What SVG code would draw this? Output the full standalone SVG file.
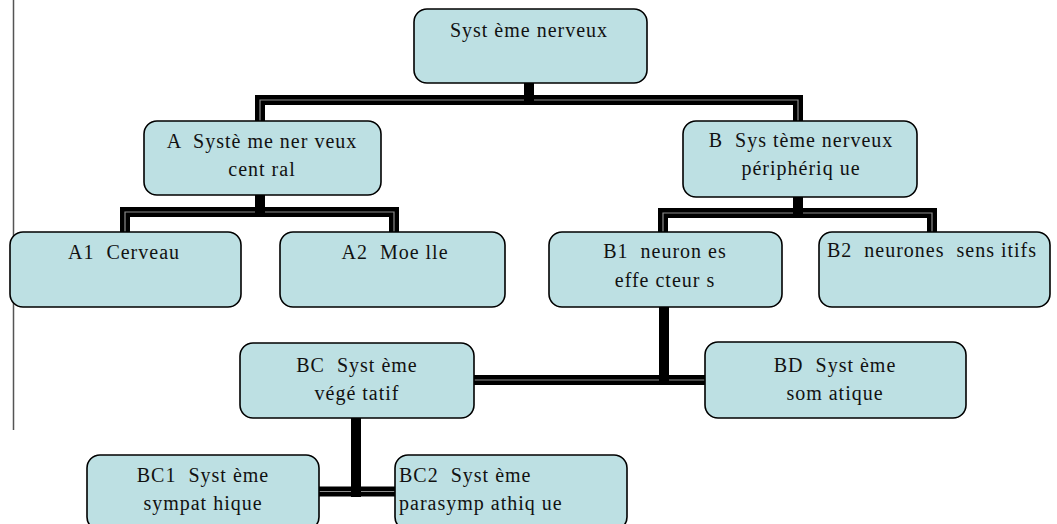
<svg xmlns="http://www.w3.org/2000/svg" width="1057" height="524" viewBox="0 0 1057 524">
  <style>
    .box { fill: #bde0e3; stroke: #000; stroke-width: 1.6; }
    .lbl { font-family: "Liberation Serif", "Times New Roman", serif; font-size: 20px; fill: #111; letter-spacing: 1px; white-space: pre; }
    .mid { text-anchor: middle; }
    .stem { fill: none; stroke: #000; stroke-width: 10; stroke-linecap: butt; }
    .edge { fill: none; stroke: #000; stroke-width: 10; stroke-linejoin: miter; }
    .edge-in { fill: none; stroke: #8c8c8c; stroke-width: 1.2; stroke-linejoin: miter; }
  </style>

  <!-- page margin rule -->
  <line x1="13.5" y1="0" x2="13.5" y2="430" stroke="#555" stroke-width="1.5"/>

  <!-- connectors -->
  <g id="connectors">
    <!-- root to A / B -->
    <line class="stem" x1="529" y1="83" x2="529" y2="105"/>
    <path class="edge" d="M529,100 H260 V121"/>
    <path class="edge" d="M529,100 H798 V121"/>
    <path class="edge-in" d="M529,100 H260 V121"/>
    <path class="edge-in" d="M529,100 H798 V121"/>
    <line class="stem" x1="529" y1="95" x2="529" y2="105"/>

    <!-- A to A1 / A2 -->
    <line class="stem" x1="260" y1="195" x2="260" y2="217"/>
    <path class="edge" d="M260,212 H125 V232"/>
    <path class="edge" d="M260,212 H394 V232"/>
    <path class="edge-in" d="M260,212 H125 V232"/>
    <path class="edge-in" d="M260,212 H394 V232"/>
    <line class="stem" x1="260" y1="207" x2="260" y2="217"/>

    <!-- B to B1 / B2 -->
    <line class="stem" x1="798" y1="197" x2="798" y2="218"/>
    <path class="edge" d="M798,213 H663 V232"/>
    <path class="edge" d="M798,213 H932 V232"/>
    <path class="edge-in" d="M798,213 H663 V232"/>
    <path class="edge-in" d="M798,213 H932 V232"/>
    <line class="stem" x1="798" y1="208" x2="798" y2="218"/>

    <!-- B1 to BC / BD -->
    <line class="stem" x1="664" y1="307" x2="664" y2="385"/>
    <path class="edge" d="M664,380 H474"/>
    <path class="edge" d="M664,380 H705"/>
    <path class="edge-in" d="M664,380 H474"/>
    <path class="edge-in" d="M664,380 H705"/>
    <line class="stem" x1="664" y1="375" x2="664" y2="385"/>

    <!-- BC to BC1 / BC2 -->
    <line class="stem" x1="356" y1="418" x2="356" y2="497"/>
    <path class="edge" d="M356,491.5 H319"/>
    <path class="edge" d="M356,491.5 H395"/>
    <path class="edge-in" d="M356,491.5 H319"/>
    <path class="edge-in" d="M356,491.5 H395"/>
    <line class="stem" x1="356" y1="486" x2="356" y2="497"/>
  </g>

  <g id="root">
    <rect class="box" x="414" y="9" width="233" height="74" rx="13"/>
    <text class="lbl mid" x="529" y="37">Syst ème nerveux</text>
  </g>

  <g id="node-a">
    <rect class="box" x="144" y="121" width="237" height="74" rx="13"/>
    <text class="lbl mid" x="262" y="148">A  Systè me ner veux</text>
    <text class="lbl mid" x="262" y="176">cent ral</text>
  </g>

  <g id="node-b">
    <rect class="box" x="683" y="121" width="234" height="76" rx="13"/>
    <text class="lbl mid" x="801" y="147">B  Sys tème nerveux</text>
    <text class="lbl mid" x="801" y="175">périphériq ue</text>
  </g>

  <g id="node-a1">
    <rect class="box" x="10" y="232" width="231" height="75" rx="13"/>
    <text class="lbl mid" x="124" y="259">A1  Cerveau</text>
  </g>

  <g id="node-a2">
    <rect class="box" x="280" y="232" width="225" height="75" rx="13"/>
    <text class="lbl mid" x="395" y="259">A2  Moe lle</text>
  </g>

  <g id="node-b1">
    <rect class="box" x="549" y="232" width="233" height="75" rx="13"/>
    <text class="lbl mid" x="665" y="258">B1  neuron es</text>
    <text class="lbl mid" x="665" y="287">effe cteur s</text>
  </g>

  <g id="node-b2">
    <rect class="box" x="819" y="232" width="231" height="75" rx="13"/>
    <text class="lbl mid" x="932" y="257">B2  neurones  sens itifs</text>
  </g>

  <g id="node-bc">
    <rect class="box" x="240" y="343" width="234" height="75" rx="13"/>
    <text class="lbl mid" x="357" y="372">BC  Syst ème</text>
    <text class="lbl mid" x="357" y="400">végé tatif</text>
  </g>

  <g id="node-bd">
    <rect class="box" x="705" y="342" width="261" height="76" rx="13"/>
    <text class="lbl mid" x="835" y="372">BD  Syst ème</text>
    <text class="lbl mid" x="835" y="400">som atique</text>
  </g>

  <g id="node-bc1">
    <rect class="box" x="87" y="455" width="232" height="75" rx="13"/>
    <text class="lbl mid" x="203" y="482">BC1  Syst ème</text>
    <text class="lbl mid" x="203" y="510">sympat hique</text>
  </g>

  <g id="node-bc2">
    <rect class="box" x="395" y="455" width="232" height="75" rx="13"/>
    <text class="lbl" x="399" y="482">BC2  Syst ème</text>
    <text class="lbl" x="399" y="510">parasymp athiq ue</text>
  </g>
</svg>
